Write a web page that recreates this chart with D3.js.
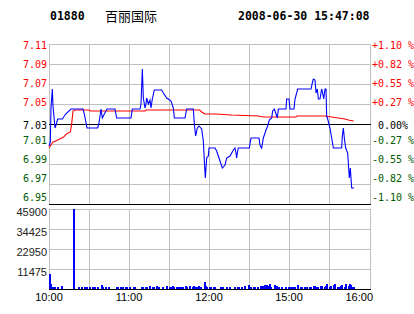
<!DOCTYPE html>
<html lang="zh">
<head>
<meta charset="utf-8">
<title>01880 百丽国际</title>
<style>
  body { margin: 0; background: #fff; }
  svg { display: block; }
  .mono { font-family: "DejaVu Sans Mono", monospace; font-size: 10px; }
  .sans { font-family: "Liberation Sans", Arial, sans-serif; font-size: 11px; }
</style>
</head>
<body>
<svg width="414" height="314"></svg>
<script src="https://cdn.jsdelivr.net/npm/d3@7"></script>
<script>
// header
const stockCode = "01880";
const stockName = "百丽国际";
const stamp = "2008-06-30 15:47:08";

// axes
const prevClose = 7.03;
const priceTicks = [6.95, 6.97, 6.99, 7.01, 7.03, 7.05, 7.07, 7.09, 7.11];
const pctLabels = ["-1.10 %", "-0.82 %", "-0.55 %", "-0.27 %", "0.00%", "+0.27 %", "+0.55 %", "+0.82 %", "+1.10 %"];
const volTicks = [0, 11475, 22950, 34425, 45900];
const timeTicks = [0, 60, 120, 180, 240];
const timeLabels = ["10:00", "11:00", "12:00", "15:00", "16:00"];

// [trading minute since 10:00 (lunch removed), value]
const price = [
  [0, 7.008], [1, 7.012], [1.5, 7.046], [2.5, 7.065], [3, 7.048], [4.5, 7.026], [5.5, 7.03],
  [6.5, 7.035], [10, 7.035], [12.5, 7.04], [16.5, 7.045], [25.5, 7.045], [26.5, 7.04],
  [28.5, 7.026], [36.5, 7.026], [37.5, 7.031], [39, 7.045], [40, 7.036], [41.5, 7.04],
  [43.5, 7.045], [49.5, 7.045], [50.75, 7.036], [61.5, 7.036], [62.5, 7.045], [68.25, 7.045],
  [69, 7.05], [70, 7.085], [70.75, 7.056], [72, 7.046], [72.75, 7.05], [73.25, 7.056],
  [74.5, 7.05], [75.75, 7.054], [76.5, 7.046], [77.5, 7.055], [79, 7.064], [84.5, 7.064],
  [85.75, 7.061], [88.25, 7.056], [89.5, 7.055], [91.5, 7.053], [93.25, 7.046], [94, 7.036],
  [102, 7.036], [103.25, 7.045], [108.25, 7.045], [109, 7.03], [110, 7.018], [111.25, 7.026],
  [112.5, 7.028], [114.5, 7.025], [115.75, 7.013], [116.5, 6.993], [117.25, 6.976],
  [118.25, 6.996], [119.5, 6.998], [120, 7.006], [124.5, 7.006], [125.75, 7.003], [127, 6.998],
  [128.25, 6.993], [130, 6.986], [132, 6.989], [133.25, 6.996], [135.75, 6.998], [138.25, 7.004],
  [139.5, 7.006], [140.25, 7.001], [140.75, 6.996], [141.25, 7.001], [142, 7.006], [150.25, 7.006],
  [151.5, 7.016], [157.5, 7.016], [158.25, 7.009], [159.5, 7.006], [160.75, 7.016], [162.75, 7.024],
  [164, 7.028], [165.25, 7.034], [167, 7.036], [167.75, 7.043], [169, 7.045], [170, 7.041],
  [171.25, 7.036], [172, 7.045], [177.75, 7.045], [178.25, 7.055], [180, 7.055], [180.75, 7.045],
  [183.75, 7.045], [184.5, 7.055], [185.75, 7.061], [186.5, 7.065], [196.5, 7.065], [197.5, 7.071],
  [198.25, 7.075], [199.5, 7.074], [200.25, 7.061], [201.25, 7.065], [202, 7.055], [203.25, 7.055],
  [204.5, 7.065], [205.25, 7.061], [206, 7.055], [207, 7.065], [207.75, 7.065], [208.25, 7.038],
  [209, 7.035], [210.75, 7.026], [212, 7.016], [213.25, 7.006], [219.5, 7.006], [220, 7.018],
  [220.75, 7.026], [221.5, 7.016], [222.5, 7.006], [224, 7.001], [224.5, 6.991], [225.25, 6.976],
  [226, 6.986], [226.5, 6.976], [227, 6.966], [228.75, 6.966]
];

const avgPrice = [
  [0, 7.006], [1.5, 7.009], [3, 7.012], [5, 7.013], [8, 7.015], [11, 7.017], [13, 7.02],
  [16, 7.022], [17, 7.03], [18, 7.043], [19.5, 7.044], [30, 7.044], [31, 7.043], [72, 7.043],
  [73, 7.044], [113, 7.044], [114.5, 7.042], [117, 7.04], [125, 7.04], [137, 7.039],
  [157, 7.038], [161, 7.037], [185, 7.037], [186, 7.038], [207, 7.038], [212, 7.037],
  [217, 7.036], [222, 7.035], [224.5, 7.034], [228.5, 7.033]
];

const volume = [
  [0, 8600], [1, 2900], [2, 1340], [3, 1340], [4, 960], [6, 1340], [9, 1900], [18, 45900],
  [22, 1340], [24, 1340], [26, 1340], [28, 960], [30, 1340], [32, 960], [34, 1340], [36, 1340],
  [39, 2300], [40, 1340], [42, 960], [44, 1340], [50, 1340], [51, 1340], [53, 1340], [55, 1340],
  [57, 960], [58, 1340], [60, 1340], [63, 1340], [64, 960], [69, 1340], [70, 1340], [72, 1340],
  [73, 1340], [75, 1900], [77, 1340], [78, 1340], [80, 1900], [82, 960], [85, 1340], [88, 1900],
  [90, 1340], [91, 1340], [92, 1900], [93, 1340], [95, 1340], [97, 1340], [98, 960], [100, 1340],
  [102, 1900], [103, 1340], [105, 1900], [107, 1340], [108, 1900], [109, 1340], [110, 960],
  [112, 1900], [113, 1340], [116, 3800], [117, 1900], [118, 1340], [120, 1340], [121, 1340],
  [123, 960], [124, 960], [128, 960], [130, 1340], [133, 960], [135, 960], [139, 1340], [141, 960],
  [142, 1340], [144, 1340], [146, 1900], [149, 2300], [151, 1340], [153, 1340], [154, 1340],
  [156, 1340], [158, 1900], [160, 1900], [161, 2300], [163, 2300], [164, 1900], [165, 2900],
  [166, 1340], [169, 2300], [170, 1900], [172, 1340], [174, 960], [177, 960], [179, 960],
  [181, 1340], [182, 1340], [184, 960], [186, 2300], [188, 1340], [189, 1340], [191, 1340],
  [193, 1340], [195, 1340], [196, 1340], [198, 1900], [199, 1900], [200, 1340], [201, 1340],
  [203, 1900], [204, 1900], [206, 1340], [207, 1900], [208, 2900], [210, 1340], [211, 1900],
  [213, 2300], [214, 2900], [216, 1340], [217, 1340], [218, 1900], [219, 2300], [221, 1340],
  [222, 2900], [224, 1900], [225, 2900], [226, 2300], [227, 1340], [228, 960]
];

const red = "#ff0000", green = "#005a00", blue = "#0000ff", grid = "#c0c0c0";

const svg = d3.select("svg");
const left = 49, right = 370;

const x = d3.scaleLinear().domain([0, 240]).range([left, 369]);
const y = d3.scaleLinear().domain([6.95, 7.11]).range([204, 44]);
// tick labels are spread evenly a bit inside the panel so the bottom one clears the volume axis
const yLab = d3.scaleLinear().domain([6.95, 7.11]).range([197.5, 45.5]);
const yv = d3.scaleLinear().domain([0, 45900]).range([289, 209]);

const gridMins = d3.range(30, 240, 30);
const px = v => Math.round(v) + 0.5;

// header
const head = svg.append("g").attr("fill", "#000");
head.append("text").attr("x", 50).attr("y", 20)
    .style("font", "bold 11.5px 'DejaVu Sans Mono', monospace").text(stockCode);
head.append("text").attr("x", 105).attr("y", 21)
    .style("font", "13px 'Noto Sans CJK SC', sans-serif").text(stockName);
head.append("text").attr("x", 238).attr("y", 20)
    .style("font", "bold 11.5px 'DejaVu Sans Mono', monospace").text(stamp);

// ---- price panel
const pg = svg.append("g").attr("shape-rendering", "crispEdges");
pg.selectAll("line.h").data(priceTicks.filter(d => d !== prevClose && d !== 6.95))
  .join("line").attr("x1", left).attr("x2", right)
  .attr("y1", d => px(y(d))).attr("y2", d => px(y(d))).attr("stroke", grid);
pg.selectAll("line.v").data(gridMins)
  .join("line").attr("y1", y(7.11)).attr("y2", y(6.95))
  .attr("x1", d => px(x(d))).attr("x2", d => px(x(d))).attr("stroke", grid);
pg.append("rect").attr("x", left + 0.5).attr("y", px(y(7.11)))
  .attr("width", right - left).attr("height", y(6.95) - y(7.11))
  .attr("fill", "none").attr("stroke", grid);
[prevClose, 6.95].forEach(v => {
  pg.append("line").attr("x1", left).attr("x2", right + 1)
    .attr("y1", px(y(v))).attr("y2", px(y(v))).attr("stroke", "#000");
});

const colorOf = d => d > prevClose ? red : d < prevClose ? green : "#000";
const labY = d => (d === prevClose ? y(d) + 1 : yLab(d)) + 3.7;

svg.append("g").attr("class", "mono").selectAll("text").data(priceTicks)
  .join("text").attr("x", 47).attr("y", labY)
  .attr("text-anchor", "end").attr("fill", colorOf)
  .text(d => d.toFixed(2));

svg.append("g").attr("class", "mono").selectAll("text").data(priceTicks)
  .join("text").attr("x", 393).attr("y", labY)
  .attr("text-anchor", "middle").attr("fill", colorOf)
  .text((d, i) => pctLabels[i]);

const line = d3.line().x(d => x(d[0])).y(d => y(d[1]));
svg.append("path").datum(avgPrice).attr("d", line)
  .attr("fill", "none").attr("stroke", red).attr("stroke-width", 1.1);
svg.append("path").datum(price).attr("d", line)
  .attr("fill", "none").attr("stroke", blue).attr("stroke-width", 1.1);

// ---- volume panel
const vg = svg.append("g").attr("shape-rendering", "crispEdges");
vg.selectAll("line.h").data(volTicks.slice(1, -1))
  .join("line").attr("x1", left).attr("x2", right)
  .attr("y1", d => px(yv(d))).attr("y2", d => px(yv(d))).attr("stroke", grid);
vg.selectAll("line.v").data(gridMins)
  .join("line").attr("y1", yv(45900)).attr("y2", yv(0))
  .attr("x1", d => px(x(d))).attr("x2", d => px(x(d))).attr("stroke", grid);
vg.append("rect").attr("x", left + 0.5).attr("y", px(yv(45900)))
  .attr("width", right - left).attr("height", yv(0) - yv(45900))
  .attr("fill", "none").attr("stroke", grid);

vg.selectAll("rect.bar").data(volume)
  .join("rect").attr("x", d => Math.round(x(d[0])))
  .attr("y", d => yv(d[1])).attr("width", 1.6)
  .attr("height", d => yv(0) - yv(d[1])).attr("fill", blue);

vg.append("line").attr("x1", left).attr("x2", right + 1)
  .attr("y1", px(yv(0))).attr("y2", px(yv(0))).attr("stroke", "#000");

svg.append("g").attr("class", "sans").selectAll("text").data(volTicks.slice(1))
  .join("text").attr("x", 47).attr("y", d => yv(d) + 7)
  .attr("text-anchor", "end").attr("fill", "#222")
  .text(d => d);

// the last time label is pulled back inside the frame
svg.append("g").attr("class", "sans").selectAll("text").data(timeTicks)
  .join("text").attr("x", (d, i) => i === timeTicks.length - 1 ? right + 3 : x(d)).attr("y", 301)
  .attr("text-anchor", (d, i) => i === timeTicks.length - 1 ? "end" : "middle").attr("fill", "#000")
  .text((d, i) => timeLabels[i]);
</script>
</body>
</html>
